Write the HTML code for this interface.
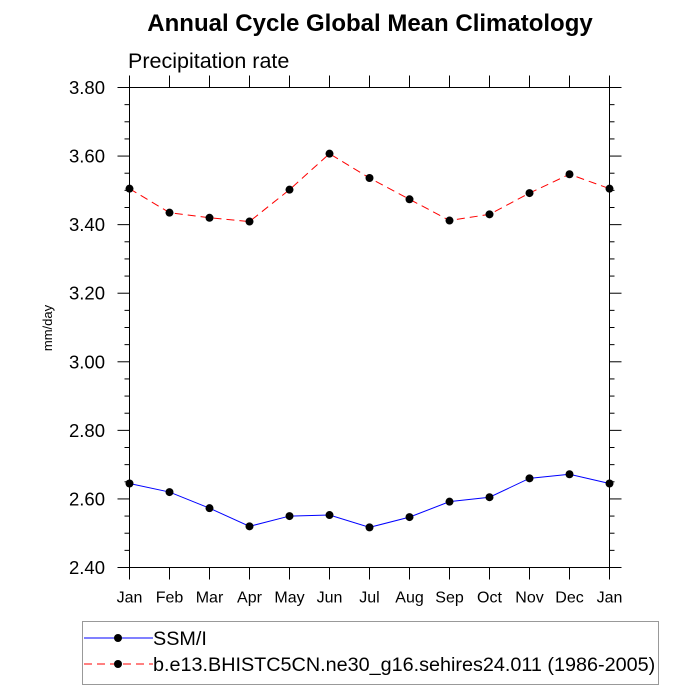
<!DOCTYPE html>
<html><head><meta charset="utf-8"><style>body{margin:0;background:#fff}svg{display:block;font-family:"Liberation Sans",sans-serif}</style></head>
<body>
<svg id="chart" width="700" height="700">
<text x="370" y="31" font-size="24" font-weight="bold" text-anchor="middle">Annual Cycle Global Mean Climatology</text>
<text x="128" y="68" font-size="21.5">Precipitation rate</text>
<text transform="translate(52,328) rotate(-90)" font-size="13" text-anchor="middle">mm/day</text>
<rect x="129.5" y="87.5" width="480" height="480" fill="none" stroke="#000" stroke-width="1"/>
<g id="axes"></g>
<g id="series"></g>
<rect x="82.5" y="621.5" width="576" height="63" fill="none" stroke="#999"/>
<g>
<line x1="84" y1="638" x2="153" y2="638" stroke="#00f"/><circle cx="118" cy="638" r="4" fill="#000"/>
<text x="153" y="645" font-size="19.8">SSM/I</text></g>
<g>
<line x1="84" y1="664" x2="153" y2="664" stroke="#f00" stroke-dasharray="8,5"/><circle cx="118" cy="664" r="4" fill="#000"/>
<text x="153" y="671" font-size="19.8">b.e13.BHISTC5CN.ne30_g16.sehires24.011 (1986-2005)</text></g>
</svg>
<script>
const months=["Jan","Feb","Mar","Apr","May","Jun","Jul","Aug","Sep","Oct","Nov","Dec","Jan"];
const ssmi=[2.645,2.620,2.573,2.520,2.550,2.553,2.517,2.547,2.592,2.605,2.660,2.672,2.645];
const model=[3.505,3.435,3.420,3.409,3.502,3.607,3.536,3.474,3.412,3.430,3.492,3.547,3.505];
const yTicks=["2.40","2.60","2.80","3.00","3.20","3.40","3.60","3.80"];
const NS="http://www.w3.org/2000/svg";
const x0=129.5,x1=609.5,y0=567.5,y1=87.5,ymin=2.4,ymax=3.8;
const X=i=>x0+i*(x1-x0)/(months.length-1);
const Y=v=>y0-(v-ymin)/(ymax-ymin)*(y0-y1);
function mk(t,a,p){const e=document.createElementNS(NS,t);for(const k in a)e.setAttribute(k,a[k]);p.appendChild(e);return e;}
const ax=document.getElementById('axes');
months.forEach((m,i)=>{
 const x=X(i);
 const t1=mk('line',{x1:x,x2:x,y1:y0,y2:y0+12,stroke:'#000'},ax);
 
 
 mk('line',{x1:x,x2:x,y1:y1,y2:y1-12,stroke:'#000'},ax);
 const l=mk('text',{x:x,y:y0+35,'font-size':16,'text-anchor':'middle'},ax);l.textContent=m;
 
 
});
for(let v=ymin;v<=ymax+1e-9;v+=0.05){
 const y=Y(v);const major=Math.abs(v*5-Math.round(v*5))<1e-6;
 const L=major?12:5;
 mk('line',{x1:x0-L,x2:x0,y1:y,y2:y,stroke:'#000'},ax);
 mk('line',{x1:x1,x2:x1+L,y1:y,y2:y,stroke:'#000'},ax);
}
yTicks.forEach(s=>{
 const l=mk('text',{x:105,y:Y(+s)+6.5,'font-size':18.5,'text-anchor':'end'},ax);l.textContent=s;
 
 
});
const sg=document.getElementById('series');
function draw(vals,color,dash,name){
 const g=mk('g',{},sg);
 
 
 mk('polyline',{points:vals.map((v,i)=>X(i)+','+Y(v)).join(' '),fill:'none',stroke:color,'stroke-dasharray':dash},g);
 vals.forEach((v,i)=>{const c=mk('circle',{cx:X(i),cy:Y(v),r:4,fill:'#000'},g);
 
 });
}
draw(ssmi,'#00f','none','ssmi-series');
draw(model,'#f00','8,5','model-series');
</script>
</body></html>
